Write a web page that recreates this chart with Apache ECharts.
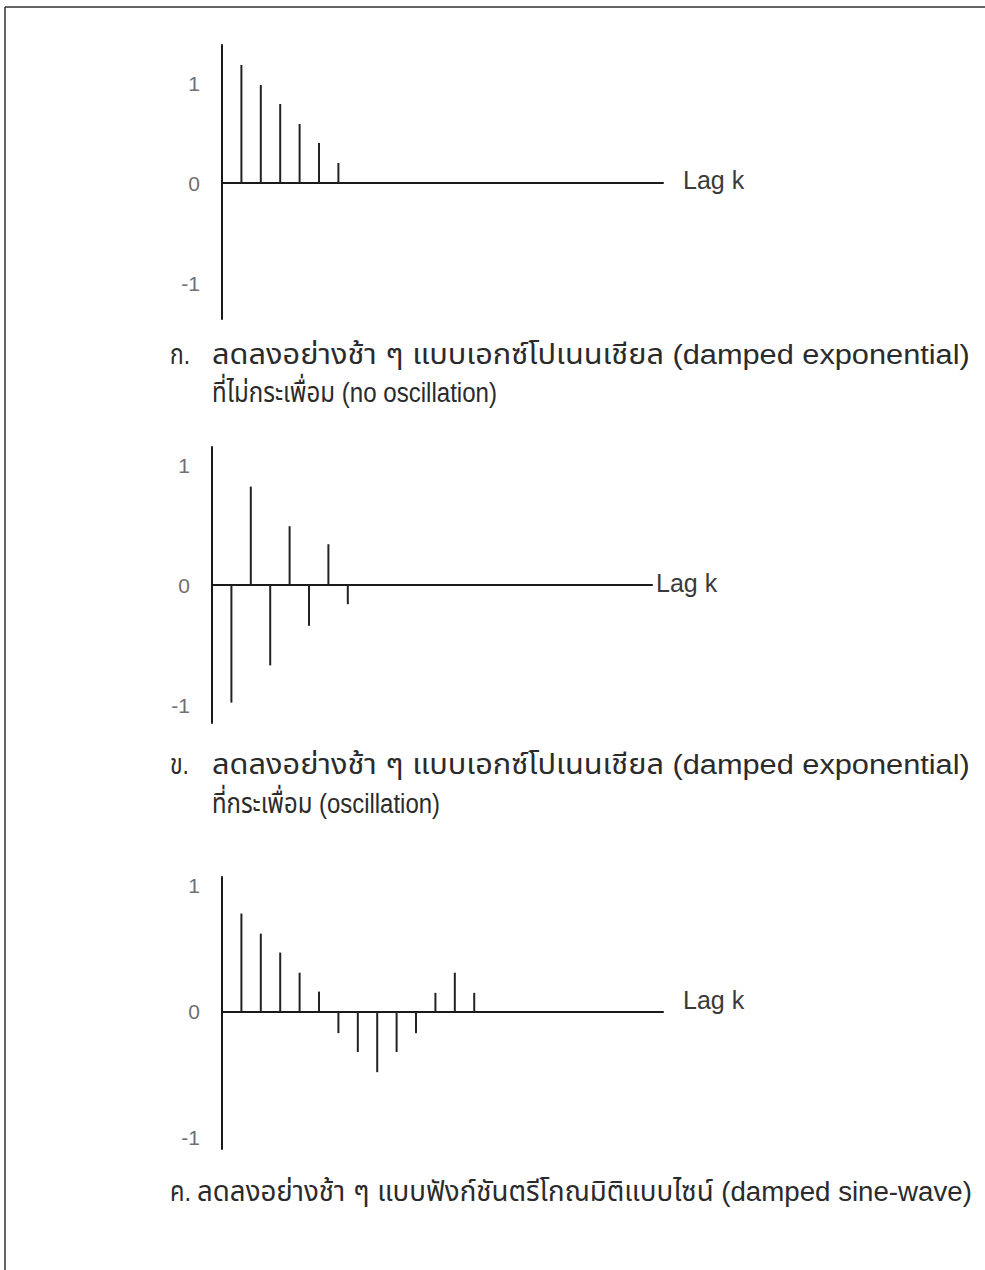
<!DOCTYPE html>
<html>
<head>
<meta charset="utf-8">
<script src="https://cdn.jsdelivr.net/npm/echarts@6/dist/echarts.min.js"></script>
<style>
html,body{margin:0;padding:0;background:#fff;}
#chart{width:985px;height:1270px;}
</style>
</head>
<body>
<div id="chart"></div>
<script>
// ---- data ----
const lagsA = [1, 2, 3, 4, 5, 6];
const acfA = [1.18, 0.98, 0.79, 0.59, 0.40, 0.20];
const lagsB = [1, 2, 3, 4, 5, 6, 7];
const acfB = [-0.98, 0.82, -0.67, 0.49, -0.34, 0.34, -0.16];
const lagsC = [1, 2, 3, 4, 5, 6, 7, 8, 9, 10, 11, 12, 13];
const acfC = [0.78, 0.62, 0.47, 0.31, 0.16, -0.17, -0.32, -0.48, -0.32, -0.17, 0.15, 0.31, 0.15];
const yTickValues = [-1, 0, 1];
const xAxisName = 'Lag k';
const captionMarks = ['ก.', 'ข.', 'ค.'];
const captionA1 = 'ลดลงอย่างช้า ๆ แบบเอกซ์โปเนนเชียล (damped exponential)';
const captionA2 = 'ที่ไม่กระเพื่อม (no oscillation)';
const captionB1 = 'ลดลงอย่างช้า ๆ แบบเอกซ์โปเนนเชียล (damped exponential)';
const captionB2 = 'ที่กระเพื่อม (oscillation)';
const captionC1 = 'ลดลงอย่างช้า ๆ แบบฟังก์ชันตรีโกณมิติแบบไซน์ (damped sine-wave)';

// ---- layout ----
const FONT = '"Liberation Sans", Arial, "Noto Sans Thai", "Noto Sans", sans-serif';
const panels = [
  {left: 222, top: 45, width: 441, height: 274, xmax: 22.73, ymin: -1.36, ymax: 1.38, nameGap: 20, nameLH: 6, lags: lagsA, vals: acfA},
  {left: 212, top: 447, width: 440, height: 276, xmax: 22.68, ymin: -1.15, ymax: 1.15, nameGap: 4, nameLH: 4, lags: lagsB, vals: acfB},
  {left: 222, top: 877, width: 441, height: 272, xmax: 22.73, ymin: -1.09, ymax: 1.07, nameGap: 20, nameLH: 24, lags: lagsC, vals: acfC}
];

const grids = [], xAxes = [], yAxes = [], series = [];
panels.forEach((p, i) => {
  grids.push({left: p.left, top: p.top, width: p.width, height: p.height, containLabel: false});
  xAxes.push({
    gridIndex: i, type: 'value', min: 0, max: p.xmax,
    axisLine: {show: true, onZero: true, lineStyle: {color: '#1a1a1a', width: 2}},
    axisTick: {show: false}, axisLabel: {show: false}, splitLine: {show: false},
    name: xAxisName, nameLocation: 'end', nameGap: p.nameGap,
    nameTextStyle: {fontFamily: FONT, fontSize: 25, color: '#3a3a3a', verticalAlign: 'bottom', lineHeight: p.nameLH}
  });
  yAxes.push({
    gridIndex: i, type: 'value', min: p.ymin, max: p.ymax,
    axisLine: {show: true, onZero: false, lineStyle: {color: '#1a1a1a', width: 2}},
    axisTick: {show: false}, splitLine: {show: false},
    axisLabel: {customValues: yTickValues, margin: 22, fontSize: 21, color: '#707070', fontFamily: FONT,
      formatter: v => String(v)}
  });
  series.push({
    type: 'bar', xAxisIndex: i, yAxisIndex: i, barWidth: 2,
    itemStyle: {color: '#222'}, silent: true, animation: false,
    data: p.lags.map((k, j) => [k, p.vals[j]])
  });
});

// measure text to fit the narrow typeface of the original
const CAP_SIZE = 28;
const cv = document.createElement('canvas').getContext('2d');
function fitText(text, x, y, size, targetW) {
  const font = size + 'px ' + FONT;
  cv.font = font;
  const w = cv.measureText(text).width || targetW;
  return {type: 'text', x: x, y: y, scaleX: targetW / w, scaleY: 1, originX: 0, originY: 0, silent: true,
    style: {text: text, font: font, fill: '#2b2b2b', verticalAlign: 'middle', align: 'left'}};
}

const graphics = [
  {type: 'line', silent: true, shape: {x1: 5, y1: 7, x2: 985, y2: 7}, style: {stroke: '#333', lineWidth: 1.5}},
  {type: 'line', silent: true, shape: {x1: 5, y1: 7, x2: 5, y2: 1270}, style: {stroke: '#333', lineWidth: 1.5}},
  fitText(captionMarks[0], 170, 354, CAP_SIZE, 20),
  fitText(captionA1, 212, 354, CAP_SIZE, 758),
  fitText(captionA2, 212, 392, CAP_SIZE, 285),
  fitText(captionMarks[1], 170, 764, CAP_SIZE, 19),
  fitText(captionB1, 212, 764, CAP_SIZE, 758),
  fitText(captionB2, 212, 803, CAP_SIZE, 228),
  fitText(captionMarks[2], 170, 1191, CAP_SIZE, 21),
  fitText(captionC1, 197, 1191, CAP_SIZE, 775)
];

const chart = echarts.init(document.getElementById('chart'), null, {renderer: 'svg'});
chart.setOption({
  animation: false,
  backgroundColor: '#fff',
  grid: grids, xAxis: xAxes, yAxis: yAxes, series: series,
  graphic: graphics
});
</script>
</body>
</html>
